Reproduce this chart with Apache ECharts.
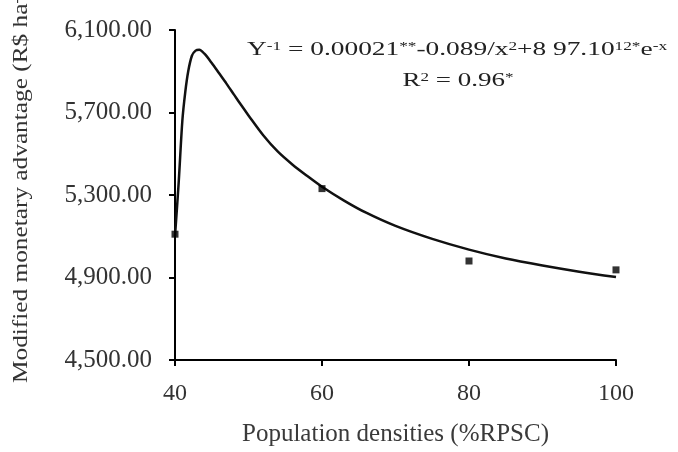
<!DOCTYPE html>
<html>
<head>
<meta charset="utf-8">
<script src="https://cdn.jsdelivr.net/npm/echarts@6/dist/echarts.min.js"></script>
<style>
  html, body { margin: 0; padding: 0; background: #fff; }
  #chart { width: 678px; height: 452px; }
</style>
</head>
<body>
<div id="chart"></div>
<script>
// observed data (density %RPSC, R$ ha-1)
const obsX = [40, 60, 80, 100]
const obsY = [5110, 5331, 4980, 4937]

// fitted curve
const fitX = [40, 40.5, 41, 41.4, 41.8, 42.3, 42.8, 43.3, 44, 45, 46, 47, 48, 49, 50, 52, 54, 56, 58, 60, 63, 66, 70, 75, 80, 85, 90, 95, 100]
const fitY = [5100, 5360, 5660, 5800, 5900, 5975, 6000, 6004, 5985, 5940, 5890, 5840, 5788, 5736, 5686, 5590, 5510, 5447, 5392, 5340, 5273, 5214, 5150, 5087, 5035, 4992, 4958, 4928, 4902]

const xTicks = [40, 60, 80, 100]
const yTicks = [4500, 4900, 5300, 5700, 6100]

const serif = '"Liberation Serif", "Times New Roman", serif'

const chart = echarts.init(document.getElementById('chart'))

function fmt(v) {
  return v.toLocaleString('en-US', { minimumFractionDigits: 2, maximumFractionDigits: 2 })
}

chart.setOption({
  animation: false,
  grid: { left: 175, right: 62, top: 30, bottom: 89 },
  xAxis: {
    type: 'value',
    min: xTicks[0],
    max: xTicks[xTicks.length - 1],
    interval: 20,
    axisLine: { lineStyle: { color: '#000', width: 2 } },
    axisTick: { show: true, length: 6, lineStyle: { color: '#000', width: 2 } },
    axisLabel: { color: '#333', fontFamily: serif, fontSize: 24, margin: 22 },
    splitLine: { show: false },
    name: 'Population densities (%RPSC)',
    nameLocation: 'middle',
    nameGap: 62,
    nameTextStyle: { color: '#3a3a3a', fontFamily: serif, fontSize: 25 }
  },
  yAxis: {
    type: 'value',
    min: yTicks[0],
    max: yTicks[yTicks.length - 1],
    interval: 400,
    axisLine: { show: true, lineStyle: { color: '#000', width: 2 } },
    axisTick: { show: true, length: 6, lineStyle: { color: '#000', width: 2 } },
    axisLabel: { color: '#333', fontFamily: serif, fontSize: 25, margin: 23, formatter: fmt },
    splitLine: { show: false }
  },
  graphic: [
    {
      // y axis title, runs off the top edge like the original
      type: 'text',
      x: 21,
      y: 383,
      rotation: Math.PI / 2,
      scaleX: 1.15,
      style: {
        text: '{n|Modified monetary advantage (R$ ha}{s|-1}{n|)}',
        textAlign: 'left',
        textVerticalAlign: 'middle',
        rich: {
          n: { fontFamily: serif, fontSize: 22, fill: '#333' },
          s: { fontFamily: serif, fontSize: 14, fill: '#333', verticalAlign: 'top' }
        }
      }
    },
    {
      type: 'text',
      x: 247,
      y: 50,
      scaleX: 1.44,
      style: {
        text: '{n|Y}{s|-1}{n| = 0.00021}{s|**}{n|-0.089/x}{s|2}{n|+8 97.10}{s|12*}{n|e}{s|-x}',
        textAlign: 'left',
        textVerticalAlign: 'middle',
        rich: {
          n: { fontFamily: serif, fontSize: 19, fill: '#222' },
          s: { fontFamily: serif, fontSize: 12, fill: '#222', verticalAlign: 'top' }
        }
      }
    },
    {
      type: 'text',
      x: 458,
      y: 81,
      scaleX: 1.42,
      style: {
        text: '{n|R}{s|2}{n| = 0.96}{s|*}',
        textAlign: 'center',
        textVerticalAlign: 'middle',
        rich: {
          n: { fontFamily: serif, fontSize: 19, fill: '#222' },
          s: { fontFamily: serif, fontSize: 12, fill: '#222', verticalAlign: 'top' }
        }
      }
    }
  ],
  series: [
    {
      type: 'line',
      data: fitX.map((x, i) => [x, fitY[i]]),
      smooth: 0.3,
      showSymbol: false,
      lineStyle: { color: '#111', width: 2.5 },
      z: 2
    },
    {
      type: 'scatter',
      data: obsX.map((x, i) => [x, obsY[i]]),
      symbol: 'rect',
      symbolSize: 7,
      itemStyle: { color: '#000' },
      z: 3
    }
  ]
})
</script>
</body>
</html>
